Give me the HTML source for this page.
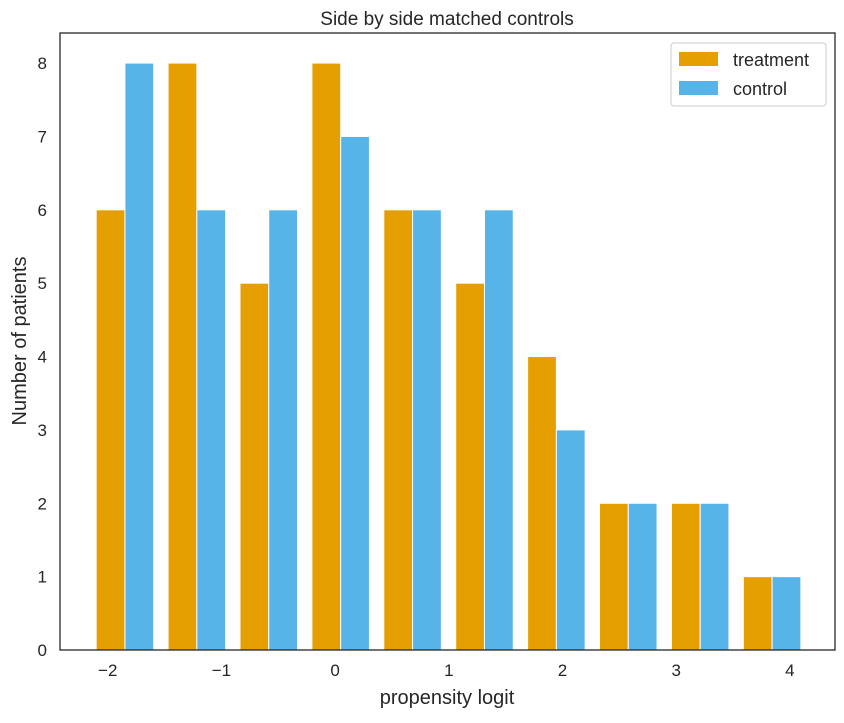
<!DOCTYPE html>
<html><head><meta charset="utf-8"><style>
body{margin:0;background:#fff;font-family:"Liberation Sans",sans-serif;}
svg text{font-family:"Liberation Sans",sans-serif;fill:#262626;}
</style></head><body>
<svg id="chart" width="844" height="718" xmlns="http://www.w3.org/2000/svg">
<rect width="844" height="718" fill="#fff"/>
<text x="447" y="25" font-size="19" text-anchor="middle">Side by side matched controls</text>
<g id="bars"></g>
<g id="xticks"></g>
<g id="yticks"></g>
<rect x="60" y="33" width="775" height="617" fill="none" stroke="#262626" stroke-width="1.3"/>
<text x="447" y="704" font-size="20" text-anchor="middle">propensity logit</text>
<text transform="translate(26,341) rotate(-90)" font-size="20" text-anchor="middle">Number of patients</text>
<g>
<rect x="671" y="43" width="155" height="63" fill="#fff" stroke="#ccc" rx="3"/>
<rect x="679" y="52" width="39" height="14" fill="#E69F00"/>
<text x="733" y="66" font-size="18">treatment</text>
<rect x="679" y="81" width="39" height="14" fill="#56B4E9"/>
<text x="733" y="95" font-size="18">control</text>
</g>
</svg>
<script>
const binStart = -2.165;
const binWidth = 0.6325;
const treatment = [6,8,5,8,6,5,4,2,2,1];
const control = [8,6,6,7,6,6,3,2,2,1];
const xTickLabels = ["\u22122","\u22121","0","1","2","3","4"];
const xTickValues = [-2,-1,0,1,2,3,4];
const yTickValues = [0,1,2,3,4,5,6,7,8];

const X0=60,X1=835,Y0=650,Y1=33;
const xmin=-2.42,xmax=4.397,ymin=0,ymax=8.41;
const sx=v=>X0+(v-xmin)/(xmax-xmin)*(X1-X0);
const sy=v=>Y0-(v-ymin)/(ymax-ymin)*(Y0-Y1);
const NS="http://www.w3.org/2000/svg";
const bars=document.getElementById('bars');
function bar(x0,x1,v,color,name){
  const r=document.createElementNS(NS,'rect');
  r.setAttribute('x',sx(x0));r.setAttribute('width',sx(x1)-sx(x0));
  r.setAttribute('y',sy(v));r.setAttribute('height',sy(0)-sy(v));
  r.setAttribute('fill',color);r.setAttribute('stroke','#fff');r.setAttribute('stroke-width','1');
  
  
  bars.appendChild(r);
}
for(let i=0;i<treatment.length;i++){
  const a=binStart+i*binWidth+binWidth*0.1, w=binWidth*0.4;
  bar(a,a+w,treatment[i],'#E69F00','bar-treatment-'+i);
  bar(a+w,a+2*w,control[i],'#56B4E9','bar-control-'+i);
}
const xt=document.getElementById('xticks');
xTickValues.forEach((v,i)=>{
  const t=document.createElementNS(NS,'text');
  t.setAttribute('x',sx(v));t.setAttribute('y',676);t.setAttribute('font-size','17');t.setAttribute('text-anchor','middle');
  t.textContent=xTickLabels[i];
  
  
  xt.appendChild(t);
});
const yt=document.getElementById('yticks');
yTickValues.forEach(v=>{
  const t=document.createElementNS(NS,'text');
  t.setAttribute('x',47);t.setAttribute('y',sy(v)+6);t.setAttribute('font-size','17');t.setAttribute('text-anchor','end');
  t.textContent=v;
  
  
  yt.appendChild(t);
});
</script>
</body></html>
